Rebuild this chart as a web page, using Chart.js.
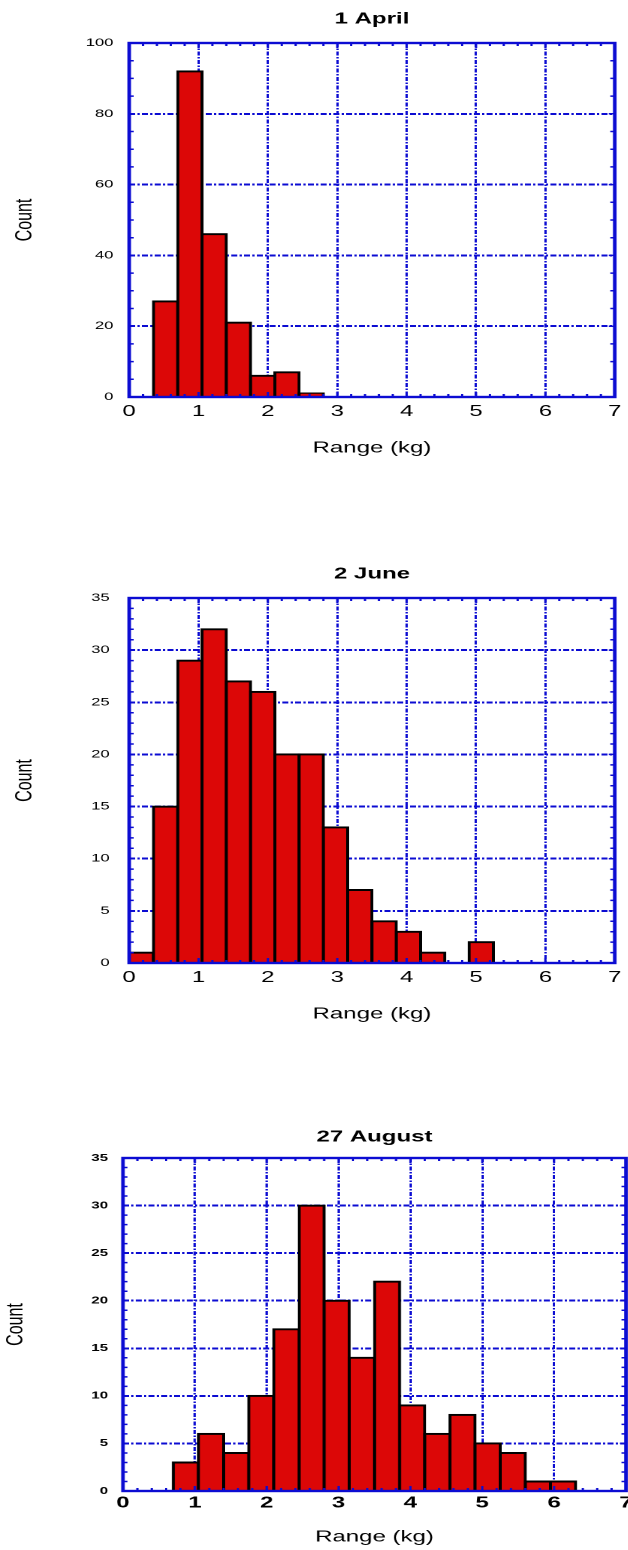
<!DOCTYPE html>
<html>
<head>
<meta charset="utf-8">
<script src="https://cdn.jsdelivr.net/npm/chart.js@4.4.1/dist/chart.umd.min.js"></script>
<style>
    html, body { margin: 0; padding: 0; background: #fff; }
    body { width: 628px; height: 1550px; overflow: hidden; position: relative; }
    /* 원본 그림이 가로로 늘어나 있어서 같은 비율로 늘림 */
    .wrap { position: absolute; left: 0; transform: scaleX(1.5); transform-origin: 0 0; }
</style>
</head>
<body>
<div class="wrap" style="top:0px;width:418.67px;height:470px"><canvas id="chart_april"></canvas></div>
<div class="wrap" style="top:555px;width:418.67px;height:481px"><canvas id="chart_june"></canvas></div>
<div class="wrap" style="top:1115px;width:430px;height:449px"><canvas id="chart_august"></canvas></div>

<script>
// 구간 경계 (kg)
var binEdges = [0, 0.35, 0.7, 1.05, 1.4, 1.75, 2.1, 2.45, 2.8, 3.15, 3.5, 3.85, 4.2, 4.55, 4.9, 5.25, 5.6, 5.95, 6.3];

// 구간별 개수
var aprilCounts = [0, 27, 92, 46, 21, 6, 7, 1];
var juneCounts = [1, 15, 29, 32, 27, 26, 20, 20, 13, 7, 4, 3, 1, 0, 2];
var augustCounts = [0, 0, 3, 6, 4, 10, 17, 30, 20, 14, 22, 9, 6, 8, 5, 4, 1, 1];

var xMax = 7;
var aprilYMax = 100, aprilYStep = 20, aprilYMinor = 5;
var summerYMax = 35, summerYStep = 5, summerYMinor = 1;

var BLUE = '#0c0cd2';
var FONT = '"Liberation Sans", Arial, sans-serif';
var GRID_DASH = [4, 1.5, 1.5, 1.5];

// 0 인 구간은 막대 안 그림
function toPoints(counts) {
    return counts.map(function (c, i) {
        return { x: (binEdges[i] + binEdges[i + 1]) / 2, y: c === 0 ? null : c };
    });
}

// 테두리 + 안쪽 눈금
var frameTicks = {
    id: 'frameTicks',
    afterDatasetsDraw: function (chart, args, opts) {
        var ctx = chart.ctx, a = chart.chartArea;
        var xs = chart.scales.x, ys = chart.scales.y;
        ctx.save();
        ctx.strokeStyle = BLUE;
        ctx.lineWidth = 1.5;
        ctx.beginPath();
        for (var k = 0; k <= xMax * 5; k++) {
            var px = xs.getPixelForValue(k * 0.2);
            var len = (k % 5 === 0) ? 5 : 3;
            ctx.moveTo(px, a.bottom); ctx.lineTo(px, a.bottom - len);
            ctx.moveTo(px, a.top); ctx.lineTo(px, a.top + len);
        }
        for (var v = 0; v <= opts.yMax; v += opts.yMinor) {
            var py = ys.getPixelForValue(v);
            var len2 = (v % opts.yStep === 0) ? 4 : 3;
            ctx.moveTo(a.left, py); ctx.lineTo(a.left + len2, py);
            ctx.moveTo(a.right, py); ctx.lineTo(a.right - len2, py);
        }
        ctx.stroke();
        ctx.lineWidth = 2.4;
        ctx.strokeRect(a.left, a.top, a.right - a.left, a.bottom - a.top);
        ctx.restore();
    }
};

function makeHist(id, cfg) {
    return new Chart(document.getElementById(id), {
        type: 'bar',
        data: {
            datasets: [{
                data: toPoints(cfg.counts),
                backgroundColor: '#dc0707',
                borderColor: '#000',
                borderWidth: 2,
                inflateAmount: 1,
                barPercentage: 1,
                categoryPercentage: 1
            }]
        },
        plugins: [frameTicks],
        options: {
            responsive: true,
            maintainAspectRatio: false,
            animation: false,
            devicePixelRatio: 2,
            layout: { padding: { left: 0, right: cfg.padRight, top: 0, bottom: 0 } },
            plugins: {
                legend: { display: false },
                tooltip: { enabled: false },
                title: {
                    display: true,
                    text: cfg.title,
                    fullSize: false,
                    color: '#000',
                    font: { family: FONT, size: 16, weight: 'bold' },
                    padding: { top: cfg.titleTop, bottom: 43 - 19.2 - cfg.titleTop }
                },
                frameTicks: { yMax: cfg.yMax, yStep: cfg.yStep, yMinor: cfg.yMinor }
            },
            scales: {
                x: {
                    type: 'linear',
                    min: 0,
                    max: xMax,
                    offset: false,
                    afterFit: function (s) { s.height = 73; },
                    ticks: {
                        stepSize: 1,
                        color: '#000',
                        padding: cfg.xTickPad,
                        maxRotation: 0,
                        font: { family: FONT, size: 16, weight: cfg.bold ? 'bold' : 'normal' }
                    },
                    grid: { color: BLUE, lineWidth: 1.5, drawTicks: false, offset: false },
                    border: { display: false, dash: GRID_DASH },
                    title: {
                        display: true,
                        text: 'Range (kg)',
                        color: '#000',
                        font: { family: FONT, size: 16 },
                        padding: { top: 0, bottom: cfg.xTitleBottom }
                    }
                },
                y: {
                    min: 0,
                    max: cfg.yMax,
                    afterFit: function (s) { s.width = cfg.left; },
                    ticks: {
                        stepSize: cfg.yStep,
                        color: '#000',
                        padding: cfg.yTickPad,
                        font: { family: FONT, size: cfg.bold ? 10 : 11, weight: cfg.bold ? 'bold' : 'normal' }
                    },
                    grid: { color: BLUE, lineWidth: 2, drawTicks: false },
                    border: { display: false, dash: GRID_DASH },
                    title: {
                        display: true,
                        text: 'Count',
                        color: '#000',
                        font: { family: FONT, size: 16 },
                        padding: { top: cfg.countPad, bottom: 0 }
                    }
                }
            }
        }
    });
}

makeHist('chart_april', {
    title: '1 April', counts: aprilCounts,
    yMax: aprilYMax, yStep: aprilYStep, yMinor: aprilYMinor,
    left: 86, padRight: 6, titleTop: 9.4, xTickPad: 4.9, xTitleBottom: 12.4,
    yTickPad: 10.5, countPad: 7.1, bold: false
});

makeHist('chart_june', {
    title: '2 June', counts: juneCounts,
    yMax: summerYMax, yStep: summerYStep, yMinor: summerYMinor,
    left: 86, padRight: 8.67, titleTop: 9.4, xTickPad: 4.9, xTitleBottom: 12.4,
    yTickPad: 13, countPad: 7.1, bold: false
});

makeHist('chart_august', {
    title: '27 August', counts: augustCounts,
    yMax: summerYMax, yStep: summerYStep, yMinor: summerYMinor,
    left: 82, padRight: 12.7, titleTop: 12.4, xTickPad: 2.4, xTitleBottom: 17.4,
    yTickPad: 10, countPad: 1.1, bold: true
});
</script>
</body>
</html>
